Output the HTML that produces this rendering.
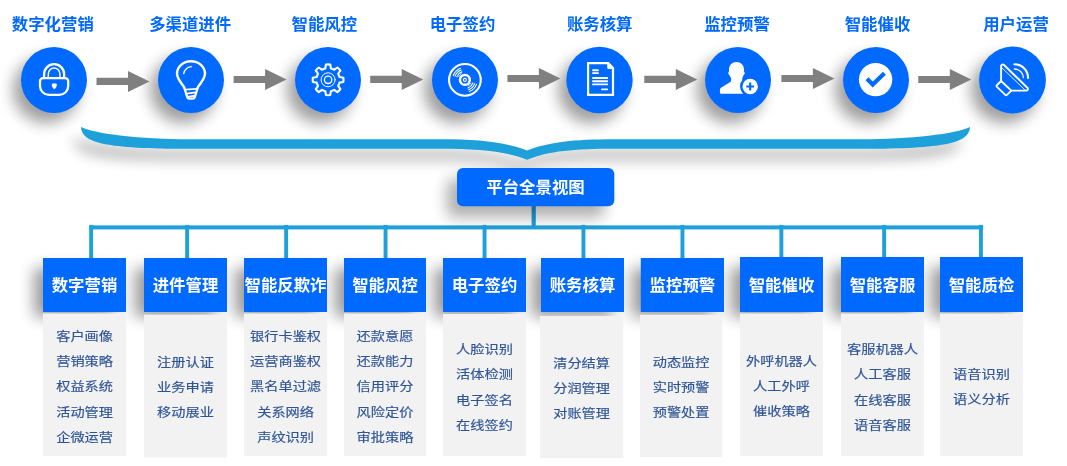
<!DOCTYPE html>
<html lang="zh-CN">
<head>
<meta charset="utf-8">
<title>平台全景视图</title>
<style>
html,body{margin:0;padding:0;background:#fff;}
body{width:1067px;height:466px;position:relative;overflow:hidden;
 font-family:"Liberation Sans","Noto Sans CJK SC",sans-serif;}
#art{position:absolute;left:0;top:0;width:1067px;height:466px;}
.lab,.hd,.it,#ctr{position:absolute;text-align:center;white-space:nowrap;margin:0;padding:0;}
#txt{position:absolute;left:0;top:0;width:1067px;height:466px;will-change:transform;}
.lab{top:12px;height:24px;line-height:24px;width:140px;font-size:16.4px;font-weight:bold;color:#0069ff;}
.hd{color:#fff;font-size:16.4px;font-weight:bold;}
.it{width:110px;height:24px;line-height:24px;font-size:14.2px;color:#2f5597;transform:scaleY(.88);-webkit-text-stroke:.2px #2f5597;transform-origin:50% 50%;}
#ctr{left:457px;top:168px;width:157px;height:38px;line-height:38px;color:#fff;font-size:16.4px;font-weight:bold;}
</style>
</head>
<body>

<svg id="art" viewBox="0 0 1067 466">
<defs>
<filter id="sc" filterUnits="userSpaceOnUse" x="-40" y="-40" width="1147" height="546"><feGaussianBlur in="SourceAlpha" stdDeviation="7.5"/><feOffset dx="-8" dy="10"/><feComponentTransfer><feFuncA type="linear" slope="0.38"/></feComponentTransfer></filter>
<filter id="sb" filterUnits="userSpaceOnUse" x="-40" y="-40" width="1147" height="546"><feGaussianBlur in="SourceAlpha" stdDeviation="7"/><feOffset dx="-8" dy="11"/><feComponentTransfer><feFuncA type="linear" slope="0.3"/></feComponentTransfer></filter>
<filter id="sh" filterUnits="userSpaceOnUse" x="-40" y="-40" width="1147" height="546"><feGaussianBlur in="SourceAlpha" stdDeviation="7.5"/><feOffset dx="0" dy="0"/><feComponentTransfer><feFuncA type="linear" slope="0.4"/></feComponentTransfer></filter>
<filter id="sx" filterUnits="userSpaceOnUse" x="-40" y="-40" width="1147" height="546"><feGaussianBlur in="SourceAlpha" stdDeviation="7.5"/><feOffset dx="-10" dy="11"/><feComponentTransfer><feFuncA type="linear" slope="0.32"/></feComponentTransfer></filter>
</defs>
<g fill="#1ea0da">
<rect x="531.6" y="205" width="4.2" height="22"/>
<rect x="89.7" y="225.4" width="893.5" height="4"/>
<rect x="89.2" y="224.9" width="3.9" height="33.5"/>
<rect x="185.2" y="224.9" width="3.9" height="33.5"/>
<rect x="284.2" y="224.9" width="3.9" height="33.5"/>
<rect x="383.6" y="224.9" width="3.9" height="33.5"/>
<rect x="482.6" y="224.9" width="3.9" height="33.5"/>
<rect x="581.5" y="224.9" width="3.9" height="33.5"/>
<rect x="680.5" y="224.9" width="3.9" height="33.5"/>
<rect x="779.4" y="224.9" width="3.9" height="33.5"/>
<rect x="882.2" y="224.9" width="3.9" height="33.5"/>
<rect x="979" y="224.9" width="3.9" height="33.5"/>
</g>
<g filter="url(#sc)">
<circle cx="54" cy="80" r="33"/>
<circle cx="191" cy="80" r="33"/>
<circle cx="328" cy="80" r="33"/>
<circle cx="465" cy="80" r="33"/>
<circle cx="599.5" cy="80" r="33.2"/>
<circle cx="738" cy="80" r="33"/>
<circle cx="876" cy="80" r="33"/>
<circle cx="1012.5" cy="80" r="33.4"/>
</g>
<g filter="url(#sb)">
<path fill="#000" d="M81 127C82 143 105 148.8 190 148.8L440 148.8C480 148.8 505 151 527 159.8C549 151 574 148.8 614 148.8L861 148.8C946 148.8 969 143 970 127C956 134 911 139.2 861 139.2L614 139.2C574 139.2 549 142 527 150.4C505 142 480 139.2 440 139.2L190 139.2C140 139.2 95 134 81 127Z"/>
</g>
<g filter="url(#sx)">
<rect x="457" y="168" width="157.3" height="38.2" rx="6"/>
</g>
<g filter="url(#sh)">
<rect x="34" y="268" width="81" height="49"/>
<rect x="135" y="268" width="81" height="49"/>
<rect x="235" y="268" width="81" height="49"/>
<rect x="335" y="268" width="80" height="49"/>
<rect x="434" y="268" width="81" height="49"/>
<rect x="532" y="268" width="81" height="49"/>
<rect x="631.8" y="268" width="81.2" height="49"/>
<rect x="731" y="267" width="81" height="50"/>
<rect x="832" y="267" width="81" height="50"/>
<rect x="931" y="267" width="81" height="50"/>
</g>
<rect fill="#f2f2f2" x="43" y="313.5" width="83.2" height="142.5"/>
<rect fill="#f2f2f2" x="144" y="314.7" width="83" height="142.8"/>
<rect fill="#f2f2f2" x="244" y="313.5" width="83.2" height="142.5"/>
<rect fill="#f2f2f2" x="344" y="313.5" width="82" height="142.5"/>
<rect fill="#f2f2f2" x="443" y="314" width="83" height="142"/>
<rect fill="#f2f2f2" x="540" y="316" width="83.2" height="142"/>
<rect fill="#f2f2f2" x="640" y="314.8" width="82.3" height="142.2"/>
<rect fill="#f2f2f2" x="740" y="313.5" width="83" height="142.5"/>
<rect fill="#f2f2f2" x="841" y="313.5" width="83" height="142.5"/>
<rect fill="#f2f2f2" x="940" y="313.5" width="83" height="142.5"/>
<path fill="#1ea0da" d="M81 127C82 143 105 148.8 190 148.8L440 148.8C480 148.8 505 151 527 159.8C549 151 574 148.8 614 148.8L861 148.8C946 148.8 969 143 970 127C956 134 911 139.2 861 139.2L614 139.2C574 139.2 549 142 527 150.4C505 142 480 139.2 440 139.2L190 139.2C140 139.2 95 134 81 127Z"/>
<path fill="#808080" d="M96.5 77.8h31.5v-6.9l21.5 10.5l-21.5 10.5v-6.9h-31.5z"/>
<path fill="#808080" d="M233.6 75.9h31.5v-6.9l21.5 10.5l-21.5 10.5v-6.9h-31.5z"/>
<path fill="#808080" d="M370.2 75.8h31.5v-6.9l21.5 10.5l-21.5 10.5v-6.9h-31.5z"/>
<path fill="#808080" d="M507.4 74.9h31.5v-6.9l21.5 10.5l-21.5 10.5v-6.9h-31.5z"/>
<path fill="#808080" d="M644.3 75.8h31.5v-6.9l21.5 10.5l-21.5 10.5v-6.9h-31.5z"/>
<path fill="#808080" d="M781.4 74.9h31.5v-6.9l21.5 10.5l-21.5 10.5v-6.9h-31.5z"/>
<path fill="#808080" d="M918.3 75.9h31.5v-6.9l21.5 10.5l-21.5 10.5v-6.9h-31.5z"/>
<rect fill="#0069ff" x="457" y="168" width="157.3" height="38.2" rx="6"/>
<rect fill="#0069ff" x="43" y="258" width="83" height="54"/>
<rect fill="#0069ff" x="144" y="258" width="83" height="54"/>
<rect fill="#0069ff" x="244" y="258" width="83" height="54"/>
<rect fill="#0069ff" x="344" y="258" width="82" height="54"/>
<rect fill="#0069ff" x="443" y="258" width="83" height="54"/>
<rect fill="#0069ff" x="541" y="258" width="83" height="54"/>
<rect fill="#0069ff" x="640.8" y="258" width="83.2" height="54"/>
<rect fill="#0069ff" x="740" y="257" width="83" height="55"/>
<rect fill="#0069ff" x="841" y="257" width="83" height="55"/>
<rect fill="#0069ff" x="940" y="257" width="83" height="55"/>
<g transform="translate(21 47)"><circle cx="33" cy="33" r="33" fill="#0069ff"/><path fill="none" stroke="#fff" stroke-width="2.3" stroke-linecap="round" stroke-linejoin="round" d="M23.1 31V27.2a10 10 0 0 1 20 0V31"/><path fill="none" stroke="#fff" stroke-width="1.5" stroke-linecap="round" stroke-linejoin="round" d="M27.3 31V26.9a5.8 5.8 0 0 1 11.6 0V31"/><path fill="none" stroke="#fff" stroke-width="2.3" stroke-linecap="round" stroke-linejoin="round" d="M22 31.1H44.2a3 3 0 0 1 3 3V39a8.9 8.9 0 0 1-8.9 8.9H27.9a8.9 8.9 0 0 1-8.9-8.9V34.1a3 3 0 0 1 3-3z"/><path fill="#fff" d="M33.3 36.2c.9 0 1.9.3 2.5.8c.1 2.5-.8 4.2-2.5 5.2c-1.7-1-2.6-2.7-2.5-5.2c.6-.5 1.6-.8 2.5-.8z"/></g>
<g transform="translate(158 47)"><circle cx="33" cy="33" r="33" fill="#0069ff"/><path fill="none" stroke="#fff" stroke-width="2.4" stroke-linecap="round" stroke-linejoin="round" d="M26.2 40.5C24.8 37.6 19 32.3 19 26.6A14 12.4 0 0 1 47 26.6C47 32.3 41.2 37.6 39.8 40.5"/><path fill="none" stroke="#fff" stroke-width="2.3" stroke-linecap="round" stroke-linejoin="round" d="M26.2 40.5L29.2 50.1a2.2 2.2 0 0 0 2.1 1.6h3.4a2.2 2.2 0 0 0 2.1-1.6L39.8 40.5"/><path fill="none" stroke="#fff" stroke-width="1.8" stroke-linecap="round" stroke-linejoin="round" d="M27.3 42.6L38.9 41.8M28.4 46.6L37.9 45.3M29.6 50L36.8 48.7"/><path fill="none" stroke="#fff" stroke-width="1.3" stroke-linecap="round" stroke-linejoin="round" d="M25.7 26.6A8.2 8.2 0 0 1 33.5 19.7"/></g>
<g transform="translate(295 47)"><circle cx="33" cy="33" r="33" fill="#0069ff"/><path fill="none" stroke="#fff" stroke-width="2.1" stroke-linecap="round" stroke-linejoin="round" d="M30.27 21.45L30.96 17.55A15.4 15.4 0 0 1 35.24 17.55L35.93 21.45A11.7 11.7 0 0 1 39.13 22.77L42.37 20.5A15.4 15.4 0 0 1 45.4 23.53L43.13 26.77A11.7 11.7 0 0 1 44.45 29.97L48.35 30.66A15.4 15.4 0 0 1 48.35 34.94L44.45 35.63A11.7 11.7 0 0 1 43.13 38.83L45.4 42.07A15.4 15.4 0 0 1 42.37 45.1L39.13 42.83A11.7 11.7 0 0 1 35.93 44.15L35.24 48.05A15.4 15.4 0 0 1 30.96 48.05L30.27 44.15A11.7 11.7 0 0 1 27.07 42.83L23.83 45.1A15.4 15.4 0 0 1 20.8 42.07L23.07 38.83A11.7 11.7 0 0 1 21.75 35.63L17.85 34.94A15.4 15.4 0 0 1 17.85 30.66L21.75 29.97A11.7 11.7 0 0 1 23.07 26.77L20.8 23.53A15.4 15.4 0 0 1 23.83 20.5L27.07 22.77A11.7 11.7 0 0 1 30.27 21.45Z"/><circle fill="none" stroke="#fff" stroke-width="1" stroke-linecap="round" stroke-linejoin="round" cx="33.1" cy="32.8" r="7"/><circle fill="none" stroke="#fff" stroke-width="1.3" stroke-linecap="round" stroke-linejoin="round" cx="33.1" cy="32.8" r="3.7"/></g>
<g transform="translate(432 47)"><circle cx="33" cy="33" r="33" fill="#0069ff"/><circle fill="none" stroke="#fff" stroke-width="2.1" stroke-linecap="round" stroke-linejoin="round" cx="32.9" cy="32.9" r="15.85"/><circle fill="none" stroke="#fff" stroke-width="2.5" stroke-linecap="round" stroke-linejoin="round" cx="32.9" cy="32.9" r="4.9"/><circle fill="none" stroke="#fff" stroke-width="1.1" stroke-linecap="round" stroke-linejoin="round" cx="32.9" cy="32.9" r="1.5"/><path fill="none" stroke="#fff" stroke-width="1.1" stroke-linecap="round" d="M24.87 29.82A8.6 8.6 0 0 1 29.82 24.87M23.1 29.14A10.5 10.5 0 0 1 29.14 23.1M21.32 28.46A12.4 12.4 0 0 1 28.46 21.32M40.93 35.98A8.6 8.6 0 0 1 35.98 40.93M42.7 36.66A10.5 10.5 0 0 1 36.66 42.7M44.48 37.34A12.4 12.4 0 0 1 37.34 44.48"/><path fill="none" stroke="#fff" stroke-width=".7" d="M26.65 29.98A6.9 6.9 0 0 1 29.98 26.65M39.15 35.82A6.9 6.9 0 0 1 35.82 39.15"/></g>
<g transform="translate(566.5 47)"><circle cx="33" cy="33" r="33.2" fill="#0069ff"/><path fill="none" stroke="#fff" stroke-width="2.2" stroke-linejoin="miter" d="M21.6 16.2H41.8L46.5 20.9V47.9H21.6z"/><path fill="#fff" stroke="#fff" stroke-width="1" stroke-linejoin="round" d="M41.3 16.2V21.4H46.5z"/><path fill="none" stroke="#fff" stroke-width="1.9" stroke-linecap="round" stroke-linejoin="round" d="M26.5 23.2H31.5M26.5 26.1H31.5M26.5 31H40.7M26.5 34.2H40.7M26.5 37.4H40.7M35.5 42.4H40.7"/></g>
<g transform="translate(705 47)"><circle cx="33" cy="33" r="33" fill="#0069ff"/><path fill="#fff" d="M31.5 15C36 15 39 18.2 39 22.6C39 23.4 38.95 24 38.85 24.5C39.6 24.8 39.8 25.6 39.6 26.5C39.4 27.6 38.9 28.3 38.2 28.5C37.9 29.8 37.7 30.6 37.3 31.3L37.3 33.2C37.3 33.9 37.7 34.3 38.4 34.6L46 37.8C47.5 38.5 48.3 39.5 48.3 41.2V45.2C48.3 46.1 47.7 46.8 46.7 46.8H16.5C15.5 46.8 14.9 46.1 14.9 45.2V43.2C14.9 41.9 15.5 41 16.8 40.3L25.3 35C25.9 34.6 26.1 34.2 26.1 33.5V31.3C25.5 30.6 25.1 29.8 24.8 28.5C24.1 28.3 23.6 27.6 23.4 26.5C23.2 25.6 23.4 24.8 24.15 24.5C24.05 24 24 23.4 24 22.6C24 18.2 27 15 31.5 15z"/><circle cx="45.2" cy="39.5" r="10.2" fill="#0069ff"/><circle cx="45.2" cy="39.5" r="7.7" fill="#fff"/><path d="M45.2 35.6v7.8M41.3 39.5h7.8" stroke="#0069ff" stroke-width="2.1" fill="none"/></g>
<g transform="translate(843 47)"><circle cx="33" cy="33" r="33" fill="#0069ff"/><circle cx="32.6" cy="32.6" r="16.7" fill="#fff"/><path d="M24 31.8L29.7 37.5L41.4 26.2" fill="none" stroke="#0069ff" stroke-width="4.2"/></g>
<g transform="translate(979.5 47)"><circle cx="33" cy="33" r="33.4" fill="#0069ff"/><path fill="none" stroke="#fff" stroke-width="1.9" stroke-linecap="round" stroke-linejoin="round" d="M21.6 34V19.2a1.7 1.7 0 0 1 2.9-1.2L47.9 40.7a1.7 1.7 0 0 1-1.2 2.9H31.8"/><path fill="none" stroke="#fff" stroke-width="0.9" stroke-linecap="round" stroke-linejoin="round" d="M22.6 21L45 42.5"/><path fill="none" stroke="#fff" stroke-width="1.9" stroke-linecap="round" stroke-linejoin="round" d="M21.6 34L31.8 43.6L27.5 47.9a1.2 1.2 0 0 1-1.7 0L17.4 39.9a1.2 1.2 0 0 1 0-1.7z"/><path fill="none" stroke="#fff" stroke-width="2.1" stroke-linecap="round" stroke-linejoin="round" d="M34.9 17.2A13.8 13.8 0 0 1 48.6 31"/><path fill="none" stroke="#fff" stroke-width="1.3" stroke-linecap="round" stroke-linejoin="round" d="M34.9 22A9.1 9.1 0 0 1 43.9 30.7"/></g>
</svg>
<div id="txt">
<div class="lab" style="left:-17.2px">数字化营销</div>
<div class="lab" style="left:120.2px">多渠道进件</div>
<div class="lab" style="left:254.3px">智能风控</div>
<div class="lab" style="left:392.5px">电子签约</div>
<div class="lab" style="left:529.7px">账务核算</div>
<div class="lab" style="left:667px">监控预警</div>
<div class="lab" style="left:807.5px">智能催收</div>
<div class="lab" style="left:946px">用户运营</div>
<div id="ctr">平台全景视图</div>
<div class="hd" style="left:43px;top:258px;width:83px;height:54px;line-height:54px">数字营销</div>
<div class="hd" style="left:144px;top:258px;width:83px;height:54px;line-height:54px">进件管理</div>
<div class="hd" style="left:244px;top:258px;width:83px;height:54px;line-height:54px">智能反欺诈</div>
<div class="hd" style="left:344px;top:258px;width:82px;height:54px;line-height:54px">智能风控</div>
<div class="hd" style="left:443px;top:258px;width:83px;height:54px;line-height:54px">电子签约</div>
<div class="hd" style="left:541px;top:258px;width:83px;height:54px;line-height:54px">账务核算</div>
<div class="hd" style="left:640.8px;top:258px;width:83.2px;height:54px;line-height:54px">监控预警</div>
<div class="hd" style="left:740px;top:258px;width:83px;height:54px;line-height:54px">智能催收</div>
<div class="hd" style="left:841px;top:258px;width:83px;height:54px;line-height:54px">智能客服</div>
<div class="hd" style="left:940px;top:258px;width:83px;height:54px;line-height:54px">智能质检</div>
<div class="it" style="left:29.6px;top:325px">客户画像</div>
<div class="it" style="left:29.6px;top:350.2px">营销策略</div>
<div class="it" style="left:29.6px;top:375.4px">权益系统</div>
<div class="it" style="left:29.6px;top:400.6px">活动管理</div>
<div class="it" style="left:29.6px;top:425.8px">企微运营</div>
<div class="it" style="left:130.5px;top:351px">注册认证</div>
<div class="it" style="left:130.5px;top:376.2px">业务申请</div>
<div class="it" style="left:130.5px;top:401.4px">移动展业</div>
<div class="it" style="left:230.6px;top:325px">银行卡鉴权</div>
<div class="it" style="left:230.6px;top:350.2px">运营商鉴权</div>
<div class="it" style="left:230.6px;top:375.4px">黑名单过滤</div>
<div class="it" style="left:230.6px;top:400.6px">关系网络</div>
<div class="it" style="left:230.6px;top:425.8px">声纹识别</div>
<div class="it" style="left:330px;top:325px">还款意愿</div>
<div class="it" style="left:330px;top:350.2px">还款能力</div>
<div class="it" style="left:330px;top:375.4px">信用评分</div>
<div class="it" style="left:330px;top:400.6px">风险定价</div>
<div class="it" style="left:330px;top:425.8px">审批策略</div>
<div class="it" style="left:429.5px;top:337.7px">人脸识别</div>
<div class="it" style="left:429.5px;top:363.2px">活体检测</div>
<div class="it" style="left:429.5px;top:388.6px">电子签名</div>
<div class="it" style="left:429.5px;top:414.1px">在线签约</div>
<div class="it" style="left:526.6px;top:351.6px">清分结算</div>
<div class="it" style="left:526.6px;top:376.8px">分润管理</div>
<div class="it" style="left:526.6px;top:402px">对账管理</div>
<div class="it" style="left:626.1px;top:351px">动态监控</div>
<div class="it" style="left:626.1px;top:376.2px">实时预警</div>
<div class="it" style="left:626.1px;top:401.4px">预警处置</div>
<div class="it" style="left:726.5px;top:349.9px">外呼机器人</div>
<div class="it" style="left:726.5px;top:375.1px">人工外呼</div>
<div class="it" style="left:726.5px;top:400.3px">催收策略</div>
<div class="it" style="left:827.5px;top:337.7px">客服机器人</div>
<div class="it" style="left:827.5px;top:363.2px">人工客服</div>
<div class="it" style="left:827.5px;top:388.6px">在线客服</div>
<div class="it" style="left:827.5px;top:414.1px">语音客服</div>
<div class="it" style="left:926.5px;top:362.7px">语音识别</div>
<div class="it" style="left:926.5px;top:387.9px">语义分析</div>
</div>
</body>
</html>
